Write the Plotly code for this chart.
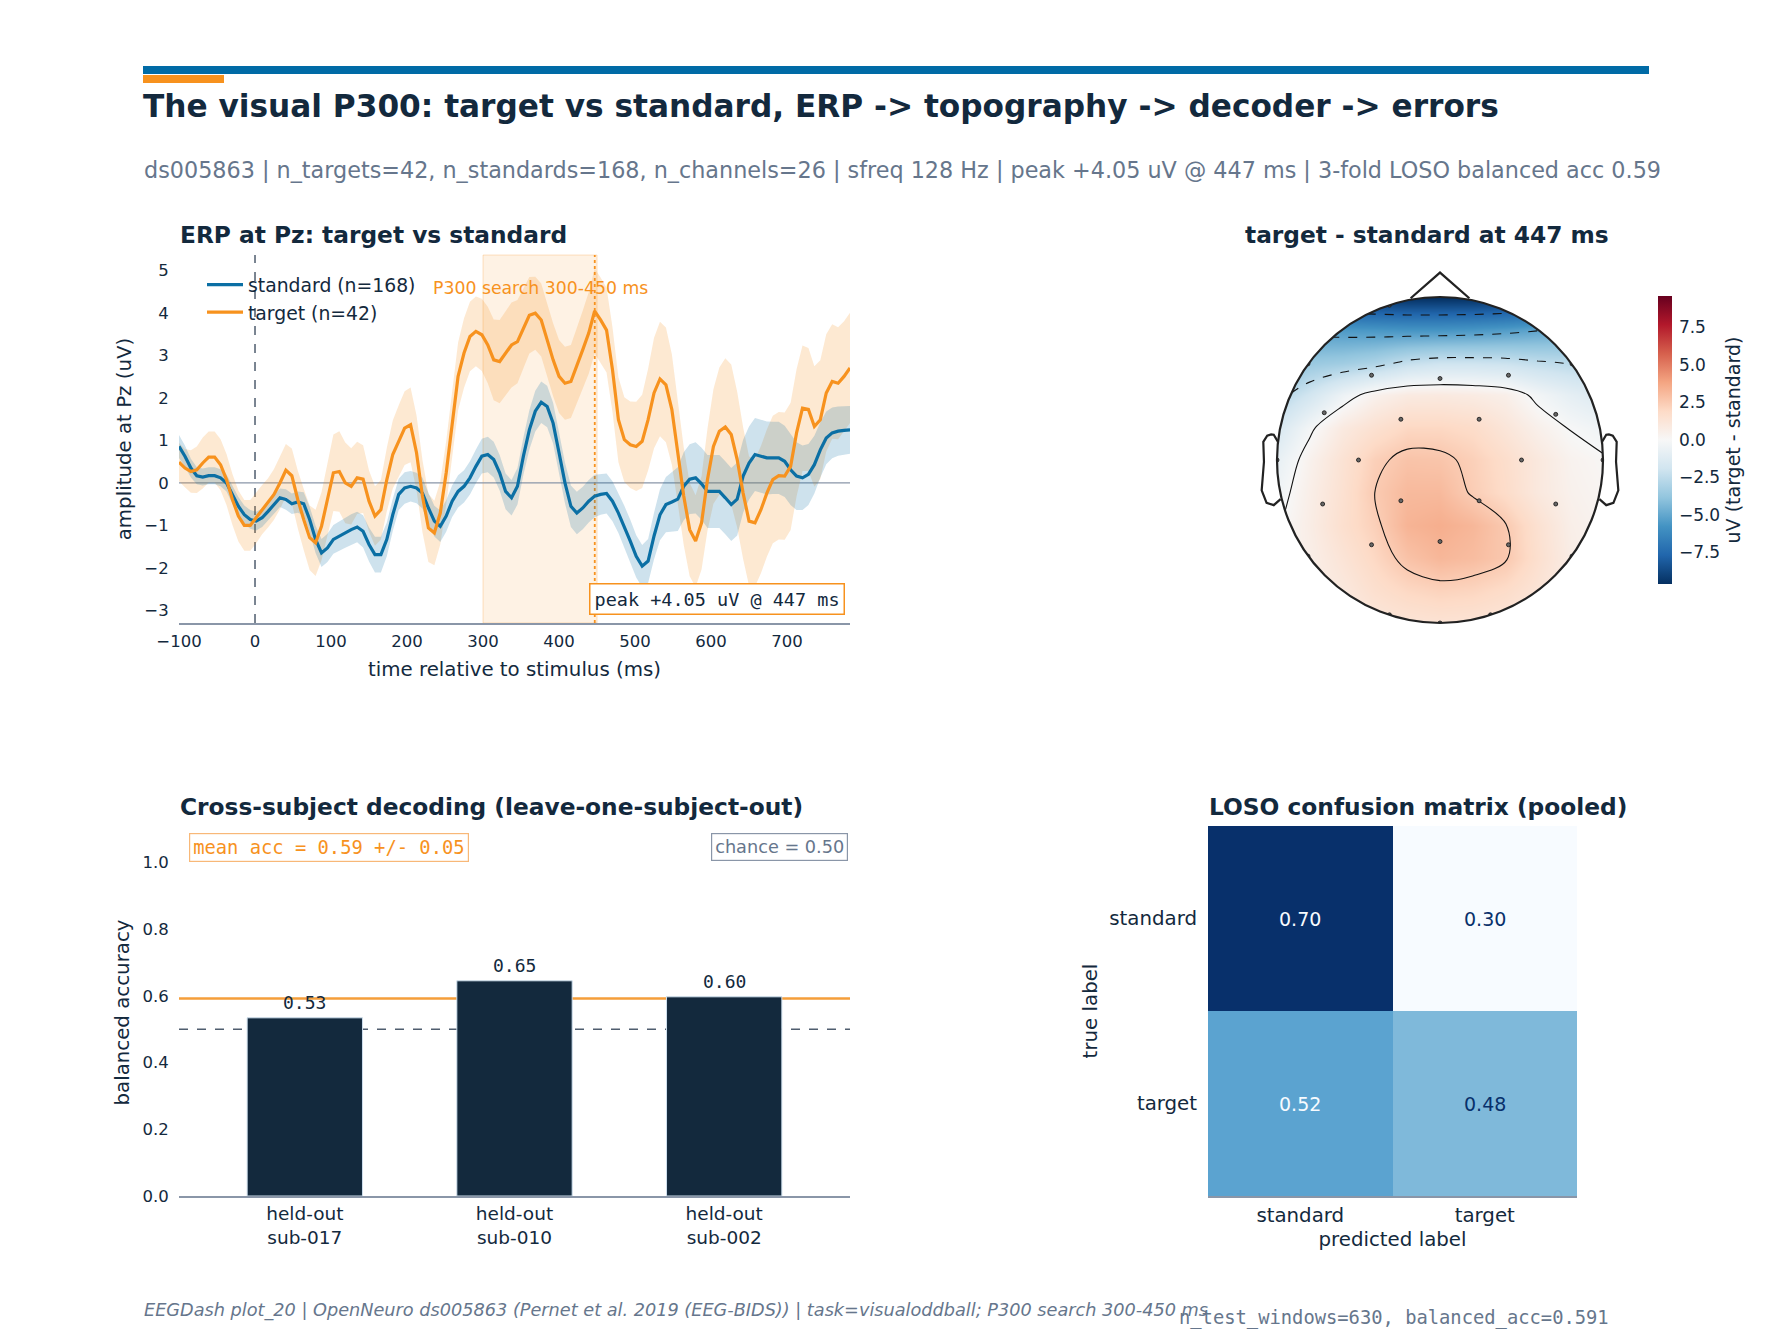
import numpy as np
import plotly.graph_objects as go

# page is rendered inside <body> with the browser's default 8px margin
W, H = 1776, 1328
OFF = 8


def px(x):
    return (x - OFF) / W


def py(y):
    return 1 - (y - OFF) / H


NAVY = "#13293d"
GREY = "#66768c"
AXIS = "#8a96a8"
BLUE = "#0b6fa4"
ORANGE = "#f7921e"
FONT = "DejaVu Sans"
MONO = "DejaVu Sans Mono"

# ---- ERP at Pz (128 Hz samples starting at -100 ms) ----
SFREQ = 128.0
T0_MS = -100.0

standard_mean = [
    0.86, 0.63, 0.35, 0.17, 0.14, 0.17, 0.17, 0.12, 0.0, -0.27,
    -0.55, -0.75, -0.86, -0.9, -0.82, -0.67, -0.51, -0.35, -0.39, -0.49,
    -0.45, -0.49, -0.86, -1.33, -1.65, -1.53, -1.33, -1.25, -1.18, -1.1,
    -1.04, -1.14, -1.45, -1.69, -1.69, -1.33, -0.75, -0.27, -0.12, -0.08,
    -0.12, -0.24, -0.59, -0.9, -1.02, -0.78, -0.43, -0.2, -0.08, 0.12,
    0.39, 0.63, 0.67, 0.55, 0.24, -0.2, -0.35, -0.08, 0.63, 1.25,
    1.69, 1.9, 1.8, 1.41, 0.71, 0.0, -0.55, -0.71, -0.59, -0.43,
    -0.31, -0.27, -0.25, -0.43, -0.71, -1.02, -1.37, -1.73, -1.96, -1.84,
    -1.25, -0.75, -0.51, -0.45, -0.38, -0.08, 0.09, 0.12, -0.02, -0.2,
    -0.2, -0.2, -0.35, -0.51, -0.38, 0.16, 0.47, 0.67, 0.63, 0.59,
    0.59, 0.59, 0.51, 0.31, 0.16, 0.12, 0.2, 0.43, 0.78, 1.06,
    1.18, 1.22, 1.24, 1.25,
]
standard_sem = [
    0.27, 0.25, 0.22, 0.2, 0.2, 0.2, 0.2, 0.2, 0.2, 0.22,
    0.22, 0.22, 0.22, 0.22, 0.22, 0.22, 0.22, 0.22, 0.24, 0.24,
    0.25, 0.27, 0.3, 0.32, 0.33, 0.33, 0.34, 0.35, 0.35, 0.36,
    0.36, 0.38, 0.4, 0.42, 0.42, 0.4, 0.38, 0.37, 0.37, 0.36,
    0.36, 0.36, 0.36, 0.36, 0.37, 0.37, 0.37, 0.38, 0.38, 0.39,
    0.4, 0.41, 0.42, 0.42, 0.42, 0.42, 0.42, 0.43, 0.44, 0.46,
    0.48, 0.49, 0.49, 0.48, 0.48, 0.48, 0.49, 0.5, 0.5, 0.5,
    0.5, 0.48, 0.47, 0.47, 0.47, 0.48, 0.5, 0.5, 0.5, 0.52,
    0.55, 0.6, 0.65, 0.7, 0.75, 0.8, 0.82, 0.84, 0.85, 0.86,
    0.86, 0.86, 0.86, 0.86, 0.86, 0.86, 0.86, 0.86, 0.86, 0.86,
    0.85, 0.85, 0.84, 0.83, 0.8, 0.76, 0.72, 0.68, 0.65, 0.62,
    0.6, 0.58, 0.57, 0.56,
]
target_mean = [
    0.49, 0.35, 0.27, 0.31, 0.47, 0.61, 0.61, 0.43, 0.08, -0.39,
    -0.78, -1.0, -1.0, -0.82, -0.63, -0.47, -0.27, 0.0, 0.3, 0.17,
    -0.39, -0.86, -1.29, -1.41, -1.02, -0.39, 0.24, 0.27, 0.0, -0.08,
    0.12, 0.09, -0.43, -0.78, -0.63, 0.08, 0.67, 0.98, 1.29, 1.37,
    0.71, -0.31, -1.06, -1.18, -0.71, 0.24, 1.41, 2.51, 3.06, 3.45,
    3.57, 3.49, 3.25, 2.9, 2.86, 3.06, 3.25, 3.33, 3.65, 3.95,
    4.0, 3.84, 3.37, 2.9, 2.51, 2.35, 2.39, 2.75, 3.14, 3.53,
    4.05, 3.84, 3.6, 2.67, 1.49, 1.02, 0.9, 0.86, 0.98, 1.49,
    2.12, 2.45, 2.31, 1.73, 0.71, -0.31, -1.1, -1.37, -0.94, 0.08,
    0.86, 1.22, 1.32, 1.14, 0.55, -0.24, -0.9, -0.94, -0.63, -0.24,
    0.08, 0.17, 0.16, 0.39, 1.18, 1.76, 1.73, 1.33, 1.49, 2.12,
    2.39, 2.35, 2.51, 2.71,
]
target_sem = [
    0.45, 0.45, 0.5, 0.55, 0.6, 0.6, 0.6, 0.6, 0.6, 0.6,
    0.6, 0.6, 0.6, 0.6, 0.58, 0.58, 0.6, 0.62, 0.62, 0.64,
    0.68, 0.72, 0.76, 0.78, 0.8, 0.85, 0.9, 0.95, 0.95, 0.9,
    0.85, 0.8, 0.72, 0.7, 0.7, 0.75, 0.8, 0.85, 0.87, 0.88,
    0.88, 0.85, 0.8, 0.76, 0.74, 0.75, 0.78, 0.8, 0.82, 0.82,
    0.82, 0.85, 0.9, 0.95, 0.98, 1.0, 1.0, 0.98, 0.95, 0.9,
    0.86, 0.86, 0.86, 0.86, 0.86, 0.86, 0.86, 0.88, 0.92, 0.96,
    1.0, 1.0, 1.0, 1.0, 1.0, 1.0, 1.02, 1.05, 1.1, 1.2,
    1.3, 1.35, 1.35, 1.3, 1.2, 1.15, 1.1, 1.08, 1.1, 1.2,
    1.35, 1.5, 1.62, 1.65, 1.6, 1.55, 1.52, 1.5, 1.5, 1.5,
    1.5, 1.5, 1.5, 1.5, 1.5, 1.48, 1.45, 1.42, 1.4, 1.38,
    1.35, 1.32, 1.3, 1.3,
]
n_standard = 168
n_target = 42
p300_window = [300, 450]
peak_ms = 447
peak_uv = 4.05

# ---- topography grid (target - standard at 447 ms), rows from front (y=1) to back ----
topo_x = [-1.0, -0.8, -0.6, -0.4, -0.2, 0.0, 0.2, 0.4, 0.6, 0.8, 1.0]
topo_y = [1.0, 0.8, 0.6, 0.4, 0.2, 0.0, -0.2, -0.4, -0.6, -0.8, -1.0]
topo_z = [
    [-8.5, -9.0, -9.4, -9.6, -9.7, -9.7, -9.7, -9.6, -9.4, -9.0, -8.5],
    [-5.3, -5.4, -5.5, -5.6, -5.7, -5.7, -5.6, -5.4, -5.1, -4.8, -4.5],
    [-4.6, -3.6, -3.4, -3.0, -2.3, -2.0, -2.0, -2.1, -2.4, -2.6, -2.8],
    [-2.9, -1.8, -0.5, 0.4, 0.85, 0.9, 0.8, 0.55, -0.25, -0.9, -1.4],
    [-1.6, -0.2, 0.9, 1.5, 2.0, 2.0, 1.8, 1.2, 0.5, -0.05, -0.4],
    [-0.8, 0.4, 1.4, 2.3, 2.75, 2.7, 2.3, 1.7, 1.0, 0.35, 0.1],
    [-0.4, 0.6, 1.5, 2.5, 3.1, 3.1, 2.4, 1.8, 1.0, 0.45, 0.2],
    [-0.1, 0.7, 1.6, 2.3, 3.3, 3.5, 3.2, 2.55, 1.5, 0.6, 0.3],
    [0.2, 0.6, 1.3, 2.0, 2.8, 3.2, 3.0, 2.6, 1.6, 0.7, 0.3],
    [0.3, 0.6, 1.0, 1.6, 2.0, 2.2, 2.1, 1.8, 1.3, 0.7, 0.4],
    [0.3, 0.5, 0.8, 1.1, 1.3, 1.4, 1.35, 1.2, 0.9, 0.6, 0.4],
]
topo_vlim = 9.6
elec_x = [-0.42, 0.0, 0.42, -0.71, -0.24, 0.24, 0.71, -0.5, 0.5, -0.72, -0.24, 0.24, 0.71,
          -0.42, 0.0, 0.42, -1.0, 1.0, 0.0, -0.31, 0.31, -0.81, 0.81, -0.81, 0.81, -0.31]
elec_y = [0.52, 0.50, 0.52, 0.29, 0.25, 0.25, 0.28, 0.0, 0.0, -0.27, -0.25, -0.25, -0.27,
          -0.52, -0.50, -0.52, 0.0, 0.0, -1.0, -0.95, -0.95, -0.59, -0.59, 0.59, 0.59, 0.95]

# ---- cross-subject decoding ----
held_out = ["held-out<br>sub-017", "held-out<br>sub-010", "held-out<br>sub-002"]
bal_acc = [0.534, 0.645, 0.597]
acc_sd = 0.05
chance = 0.50

# ---- pooled confusion matrix ----
cm_labels = ["standard", "target"]
cm_values = [[0.70, 0.30], [0.52, 0.48]]
n_test_windows = 630
pooled_bal_acc = 0.591

RDBU_R = ["#053061", "#2166ac", "#4393c3", "#92c5de", "#d1e5f0", "#f7f7f7",
          "#fddbc7", "#f4a582", "#d6604d", "#b2182b", "#67001f"]
BLUES = ["#f7fbff", "#deebf7", "#c6dbef", "#9ecae1", "#6baed6", "#4292c6",
         "#2171b5", "#08519c", "#08306b"]


def scale(colors):
    return [[i / (len(colors) - 1), c] for i, c in enumerate(colors)]


def neg(v, fmt="{}"):
    return fmt.format(v).replace("-", "\u2212")


times = T0_MS + np.arange(len(standard_mean)) * 1000.0 / SFREQ

fig = go.Figure()

# ERP bands + means
for mean, sem, fill in [(target_mean, target_sem, "rgba(247,146,30,0.2)"),
                        (standard_mean, standard_sem, "rgba(11,111,164,0.2)")]:
    m, s = np.array(mean), np.array(sem)
    fig.add_trace(go.Scatter(
        x=np.concatenate([times, times[::-1]]),
        y=np.concatenate([m + s, (m - s)[::-1]]),
        fill="toself", fillcolor=fill, line=dict(width=0),
        hoverinfo="skip", showlegend=False, xaxis="x", yaxis="y"))

fig.add_trace(go.Scatter(x=times, y=standard_mean, mode="lines",
                         line=dict(color=BLUE, width=3.2),
                         name=f"standard (n={n_standard})", xaxis="x", yaxis="y"))
fig.add_trace(go.Scatter(x=times, y=target_mean, mode="lines",
                         line=dict(color=ORANGE, width=3.2),
                         name=f"target (n={n_target})", xaxis="x", yaxis="y"))

# topomap
ty = topo_y[::-1]
tz = topo_z[::-1]
fig.add_trace(go.Heatmap(
    x=topo_x, y=ty, z=tz, zsmooth="best", colorscale=scale(RDBU_R),
    zmin=-topo_vlim, zmax=topo_vlim, xaxis="x2", yaxis="y2", hoverinfo="skip",
    showlegend=False,
    colorbar=dict(
        x=px(1658), xanchor="left", y=py(440), yanchor="middle",
        len=288 / H, thickness=14, outlinewidth=0, xpad=0, ypad=0,
        ticks="outside", ticklen=4, tickcolor="rgba(0,0,0,0)",
        tickvals=[-7.5, -5, -2.5, 0, 2.5, 5, 7.5],
        ticktext=[neg(v, "{:.1f}") for v in [-7.5, -5, -2.5, 0, 2.5, 5, 7.5]],
        tickfont=dict(family=FONT, size=17, color=NAVY),
        title=dict(text="uV (target - standard)", side="right",
                   font=dict(family=FONT, size=19, color=NAVY)),
    )))
for start, end, dash in [(-7.5, -2.5, "dash"), (0, 2.5, "solid")]:
    fig.add_trace(go.Contour(
        x=topo_x, y=ty, z=tz, autocontour=False,
        contours=dict(start=start, end=end, size=2.5, coloring="none"),
        line=dict(color="#111111", width=1.1, dash=dash, smoothing=1.0),
        showscale=False, showlegend=False, hoverinfo="skip", xaxis="x2", yaxis="y2"))
fig.add_trace(go.Scatter(
    x=elec_x, y=elec_y, mode="markers",
    marker=dict(size=4, color="#666666", line=dict(color="#111111", width=0.8)),
    hoverinfo="skip", showlegend=False, xaxis="x2", yaxis="y2"))

# decoding bars
fig.add_trace(go.Bar(
    x=held_out, y=bal_acc, width=0.55,
    marker=dict(color=NAVY, line=dict(color="#cfe0ee", width=1)),
    showlegend=False, hoverinfo="skip", xaxis="x3", yaxis="y3"))

# confusion matrix
fig.add_trace(go.Heatmap(
    x=cm_labels, y=cm_labels, z=cm_values, colorscale=scale(BLUES),
    zmin=np.min(cm_values), zmax=np.max(cm_values), showscale=False,
    showlegend=False, hoverinfo="skip", xaxis="x4", yaxis="y4"))

# ---- shapes ----
theta = np.linspace(0, -2 * np.pi, 241)
XR, YR = 195 / 163, (1.111, 1.302)
hole = " ".join(f"L{np.cos(t):.4f},{np.sin(t):.4f}" for t in theta[1:])
mask = (f"M{-XR},{-YR[0]} L{XR},{-YR[0]} L{XR},{YR[1]} L{-XR},{YR[1]} Z "
        f"M1,0 {hole} Z")
ear_x = [0.994, 1.02, 1.036, 1.06, 1.084, 1.08, 1.094, 1.064, 1.02, 0.978]
ear_y = [0.111, 0.155, 0.157, 0.149, 0.111, -0.011, -0.186, -0.263, -0.277, -0.240]
right_ear = "M" + " L".join(f"{x},{y}" for x, y in zip(ear_x, ear_y))
left_ear = "M" + " L".join(f"{-x},{y}" for x, y in zip(ear_x, ear_y))
HEAD = dict(color="#222222", width=2.2)

mean_acc = float(np.mean(bal_acc))

shapes = [
    # header bars
    dict(type="rect", xref="paper", yref="paper", x0=px(143), x1=px(1649),
         y0=py(74), y1=py(66), fillcolor="#006ba6", line=dict(width=0)),
    dict(type="rect", xref="paper", yref="paper", x0=px(143), x1=px(224),
         y0=py(83), y1=py(75), fillcolor=ORANGE, line=dict(width=0)),
    # ERP decorations
    dict(type="rect", xref="x", yref="y domain", x0=p300_window[0], x1=p300_window[1],
         y0=0, y1=1, fillcolor="rgba(247,146,30,0.12)",
         line=dict(color="rgba(247,146,30,0.25)", width=1), layer="below"),
    dict(type="line", xref="x", yref="y", x0=times[0], x1=times[-1], y0=0, y1=0,
         line=dict(color=AXIS, width=1.3), layer="below"),
    dict(type="line", xref="x", yref="y domain", x0=0, x1=0, y0=0, y1=1,
         line=dict(color="#4f5d6e", width=1.5, dash="dash"), layer="below"),
    dict(type="line", xref="x", yref="y domain", x0=peak_ms, x1=peak_ms, y0=0, y1=1,
         line=dict(color=ORANGE, width=1.8, dash="dot"), layer="below"),
    # topomap head
    dict(type="path", xref="x2", yref="y2", path=mask, fillcolor="white",
         line=dict(width=0), layer="above"),
    dict(type="circle", xref="x2", yref="y2", x0=-1, x1=1, y0=-1, y1=1,
         line=HEAD, layer="above"),
    dict(type="path", xref="x2", yref="y2", path="M-0.18,0.9926 L0,1.15 L0.18,0.9926",
         line=HEAD, layer="above"),
    dict(type="path", xref="x2", yref="y2", path=right_ear, line=HEAD, layer="above"),
    dict(type="path", xref="x2", yref="y2", path=left_ear, line=HEAD, layer="above"),
    # decoding reference lines
    dict(type="line", xref="x3 domain", yref="y3", x0=0, x1=1, y0=chance, y1=chance,
         line=dict(color="#4f5d6e", width=1.6, dash="dash"), layer="below"),
    dict(type="line", xref="x3 domain", yref="y3", x0=0, x1=1, y0=mean_acc, y1=mean_acc,
         line=dict(color="#f59e3a", width=2.6), layer="below"),
]


def note(text, x, y, size, color=NAVY, family=FONT, xanchor="left", yanchor="middle", **kw):
    return dict(text=text, x=x, y=y, xref=kw.pop("xref", "paper"), yref=kw.pop("yref", "paper"),
                xanchor=xanchor, yanchor=yanchor, showarrow=False,
                font=dict(family=family, size=size, color=color), **kw)


annotations = [
    note("<b>The visual P300: target vs standard, ERP -> topography -> decoder -> errors</b>",
         px(141), py(106), 31.2),
    note(f"ds005863 | n_targets={n_target}, n_standards={n_standard}, n_channels=26 | "
         f"sfreq 128 Hz | peak +{peak_uv:.2f} uV @ {peak_ms} ms | "
         f"3-fold LOSO balanced acc {mean_acc:.2f}", px(142), py(170), 22.3, GREY),
    note("<b>ERP at Pz: target vs standard</b>", px(178), py(234), 23.3),
    note(f"<b>target - standard at {peak_ms} ms</b>", px(1243), py(234), 23.3),
    note("<b>Cross-subject decoding (leave-one-subject-out)</b>", px(178), py(806), 23.3),
    note("<b>LOSO confusion matrix (pooled)</b>", px(1207), py(806), 23.3),
    note(f"P300 search {p300_window[0]}-{p300_window[1]} ms", sum(p300_window) / 2, 4.6, 17.3,
         ORANGE, xanchor="center", xref="x", yref="y"),
    note(f"peak +{peak_uv:.2f} uV @ {peak_ms} ms", px(845), py(599), 18.5, NAVY, MONO,
         xanchor="right", bordercolor=ORANGE, borderwidth=1.5, borderpad=4, bgcolor="white"),
    note(f"mean acc = {mean_acc:.2f} +/- {acc_sd:.2f}", px(189), py(847), 18.8, ORANGE, MONO,
         bordercolor="#f8b878", borderwidth=1.2, borderpad=3, bgcolor="white"),
    note(f"chance = {chance:.2f}", px(848), py(847), 17.7, GREY, xanchor="right",
         bordercolor=AXIS, borderwidth=1.2, borderpad=3, bgcolor="white"),
    note("<i>EEGDash plot_20 | OpenNeuro ds005863 (Pernet et al. 2019 (EEG-BIDS)) | "
         f"task=visualoddball; P300 search {p300_window[0]}-{p300_window[1]} ms</i>",
         px(142), py(1310), 17.7, GREY),
    note(f"n_test_windows={n_test_windows}, balanced_acc={pooled_bal_acc:.3f}",
         px(1177), py(1318), 18.8, GREY, MONO),
]
for lab, v in zip(held_out, bal_acc):
    annotations.append(note(f"{v:.2f}", lab, v, 18, NAVY, MONO, xanchor="center",
                            yanchor="bottom", yshift=3, xref="x3", yref="y3"))
lo, hi = np.min(cm_values), np.max(cm_values)
for i, row_lab in enumerate(cm_labels):
    for j, col_lab in enumerate(cm_labels):
        v = cm_values[i][j]
        col = "#f7fbff" if v > (lo + hi) / 2 else "#08306b"
        annotations.append(note(f"{v:.2f}", col_lab, row_lab, 19, col, xanchor="center",
                                xref="x4", yref="y4"))


def tick(n=6):
    return dict(ticks="outside", ticklen=n, tickcolor="rgba(0,0,0,0)", showgrid=False,
                zeroline=False, fixedrange=True, automargin=False)


title_font = dict(family=FONT, size=19.8, color=NAVY)

fig.update_layout(
    width=W, height=H, margin=dict(l=0, r=0, t=0, b=0, autoexpand=False),
    paper_bgcolor="white", plot_bgcolor="white", hovermode=False,
    font=dict(family=FONT, color=NAVY),
    showlegend=True,
    legend=dict(x=px(202), y=py(266), xanchor="left", yanchor="top", itemwidth=36,
                bgcolor="rgba(0,0,0,0)", font=dict(family=FONT, size=18.8, color=NAVY),
                tracegroupgap=0),
    xaxis=dict(domain=[px(179), px(850)], range=[times[0], times[-1]], anchor="y",
               showline=True, linecolor=AXIS, linewidth=2,
               tickvals=list(range(-100, 800, 100)),
               ticktext=[neg(v) for v in range(-100, 800, 100)],
               tickfont=dict(family=FONT, size=16.5, color=NAVY),
               title=dict(text="time relative to stimulus (ms)", font=title_font, standoff=12),
               **tick(2)),
    yaxis=dict(domain=[py(623), py(255)], range=[-3.3, 5.37], anchor="x", showline=False,
               tickvals=list(range(-3, 6)), ticktext=[neg(v) for v in range(-3, 6)],
               tickfont=dict(family=FONT, size=16.5, color=NAVY),
               title=dict(text="amplitude at Pz (uV)", font=title_font, standoff=7),
               **tick(6)),
    xaxis2=dict(domain=[px(1440 - 195), px(1440 + 195)], range=[-XR, XR], anchor="y2",
                visible=False, fixedrange=True),
    yaxis2=dict(domain=[py(460 + YR[0] * 163), py(460 - YR[1] * 163)], range=[-YR[0], YR[1]],
                anchor="x2", visible=False, fixedrange=True),
    xaxis3=dict(domain=[px(179), px(850)], range=[-0.6, 2.6], anchor="y3", type="category",
                showline=True, linecolor=AXIS, linewidth=2,
                tickfont=dict(family=FONT, size=18.5, color=NAVY), **tick(0)),
    yaxis3=dict(domain=[py(1196), py(829)], range=[0, 1.1], anchor="x3", showline=False,
                tickvals=[0, 0.2, 0.4, 0.6, 0.8, 1.0],
                ticktext=["0.0", "0.2", "0.4", "0.6", "0.8", "1.0"],
                tickfont=dict(family=FONT, size=16.5, color=NAVY),
                title=dict(text="balanced accuracy", font=title_font, standoff=7), **tick(6)),
    xaxis4=dict(domain=[px(1208), px(1577)], anchor="y4", showline=True, linecolor=AXIS,
                linewidth=2, tickfont=dict(family=FONT, size=19.8, color=NAVY),
                title=dict(text="predicted label", font=title_font, standoff=6), **tick(0)),
    yaxis4=dict(domain=[py(1196), py(826)], anchor="x4", autorange="reversed",
                showline=False, tickfont=dict(family=FONT, size=19.8, color=NAVY),
                title=dict(text="true label", font=title_font, standoff=6), **tick(6)),
    shapes=shapes,
    annotations=annotations,
)

fig.write_html("out.html")
